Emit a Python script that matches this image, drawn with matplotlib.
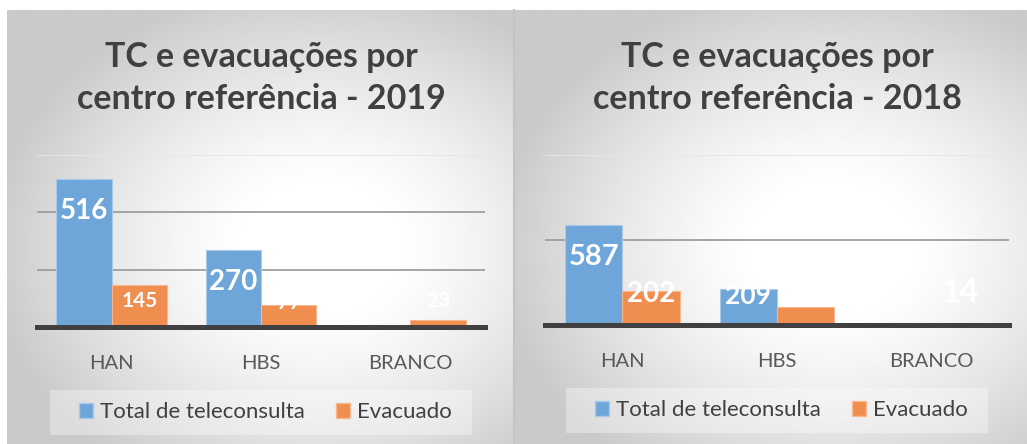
import matplotlib.pyplot as plt
import numpy as np
from matplotlib.patches import Patch, Rectangle
from matplotlib.lines import Line2D

plt.rcParams['font.family'] = ['Lato', 'DejaVu Sans']

categories = ['HAN', 'HBS', 'BRANCO']
series_names = ['Total de teleconsulta', 'Evacuado']

tc_2019 = [516, 270, 0]
evac_2019 = [145, 77, 23]
tc_2018 = [587, 209, 0]
evac_2018 = [202, 105, 14]

BLUE = '#6fa6da'
ORANGE = '#ef8e4f'
TEXT = '#404040'

W, H = 1027, 444
fig = plt.figure(figsize=(W / 100, H / 100), dpi=100)


def px_rect(x0, y0, x1, y1):
    # pixel box (top-left origin) -> figure fraction rect
    return [x0 / W, 1 - y1 / H, (x1 - x0) / W, (y1 - y0) / H]


def gradient_bg(rect):
    bg = fig.add_axes(rect, zorder=0)
    ny, nx = 220, 260
    yy, xx = np.mgrid[0:1:ny * 1j, 0:1:nx * 1j]
    r = np.sqrt(((xx - 0.62) / 0.66) ** 2 + ((yy - 0.55) / 0.62) ** 2)
    shade = 1.0 - 0.21 * np.clip((r - 0.22) / 0.78, 0, 1) ** 1.3
    bg.imshow(shade, cmap='gray', vmin=0, vmax=1, aspect='auto',
              extent=[0, 1, 0, 1], interpolation='bilinear')
    bg.set_axis_off()


def draw_panel(bg_box, ax_box, title, title_x, tc, evac, ymax, step,
               offsets, sizes, legend_box, legend_center):
    gradient_bg(px_rect(*bg_box))
    ax = fig.add_axes(px_rect(*ax_box), zorder=2)
    ax.patch.set_alpha(0)

    x = np.arange(len(categories))
    w = 0.37
    b1 = ax.bar(x - w / 2, tc, w, color=BLUE, edgecolor='#a9c9ea', linewidth=0.8, zorder=3)
    b2 = ax.bar(x + w / 2, evac, w, color=ORANGE, edgecolor='#f5b890', linewidth=0.8, zorder=3)

    ax.set_xlim(-0.5, len(categories) - 0.5)
    ax.set_ylim(0, ymax)
    ax.set_yticks(np.arange(step, ymax + 1, step))
    ax.yaxis.grid(True, color='#9e9e9e', linewidth=1.3, zorder=1)
    ax.get_ygridlines()[-1].set_color('#e6e6e6')
    ax.set_yticklabels([])
    ax.tick_params(axis='y', length=0)
    ax.set_xticks(x)
    ax.set_xticklabels(categories, fontsize=14.5, color='#595959')
    ax.tick_params(axis='x', length=0, pad=20)
    for s in ax.spines.values():
        s.set_visible(False)
    ax.axhline(0, color='#404040', linewidth=3.6, zorder=4, clip_on=False)

    bars = list(b1) + list(b2)
    vals = list(tc) + list(evac)
    for bar, v, off, fs in zip(bars, vals, offsets, sizes):
        ax.annotate(str(v), (bar.get_x() + bar.get_width() / 2, v),
                    xytext=(0, off / 1.389), textcoords='offset points',
                    ha='center', va='center', color='white',
                    fontsize=fs, fontweight='bold', zorder=5)

    fig.text(title_x / W, 1 - 78 / H, title, ha='center', va='center',
             fontsize=24.5, fontweight='bold', color=TEXT, linespacing=1.4)

    fig.add_artist(Rectangle(px_rect(*legend_box)[:2], *px_rect(*legend_box)[2:],
                             transform=fig.transFigure, facecolor='white',
                             alpha=0.35, edgecolor='none', zorder=1))
    handles = [Patch(facecolor=BLUE, edgecolor='#a9c9ea'),
               Patch(facecolor=ORANGE, edgecolor='#f5b890')]
    leg = fig.legend(handles, series_names, loc='center',
                     bbox_to_anchor=(legend_center[0] / W, 1 - legend_center[1] / H),
                     ncol=2, frameon=False, fontsize=16, handlelength=0.65,
                     handleheight=0.65, handletextpad=0.3, columnspacing=1.4)
    for t in leg.get_texts():
        t.set_color(TEXT)
    leg.set_zorder(3)


# label offsets from bar top in pixels: blue bars first, then orange
draw_panel((7, 10, 514, 444), (37, 155, 485, 327),
           'TC e evacuações por\ncentro referência - 2019', 261,
           tc_2019, evac_2019, 600, 200,
           [-32, -32, 27, -16, 2, 19], [20, 20, 15, 15, 15, 15],
           (50, 390, 472, 435), (265, 412))

draw_panel((514, 10, 1027, 444), (545, 155, 1009, 325),
           'TC e evacuações por\ncentro referência - 2018', 777,
           tc_2018, evac_2018, 1000, 500,
           [-32, -7, 28, -3, 24, 30], [21, 19, 20, 20, 20, 23],
           (566, 388, 988, 433), (781, 410))

# thin divider between the two chart panels
fig.add_artist(Line2D([514 / W, 514 / W], [0, 1 - 10 / H], transform=fig.transFigure,
                      color='#c4c4c4', linewidth=1.5, zorder=6))

fig.savefig('out.png', dpi=100)
